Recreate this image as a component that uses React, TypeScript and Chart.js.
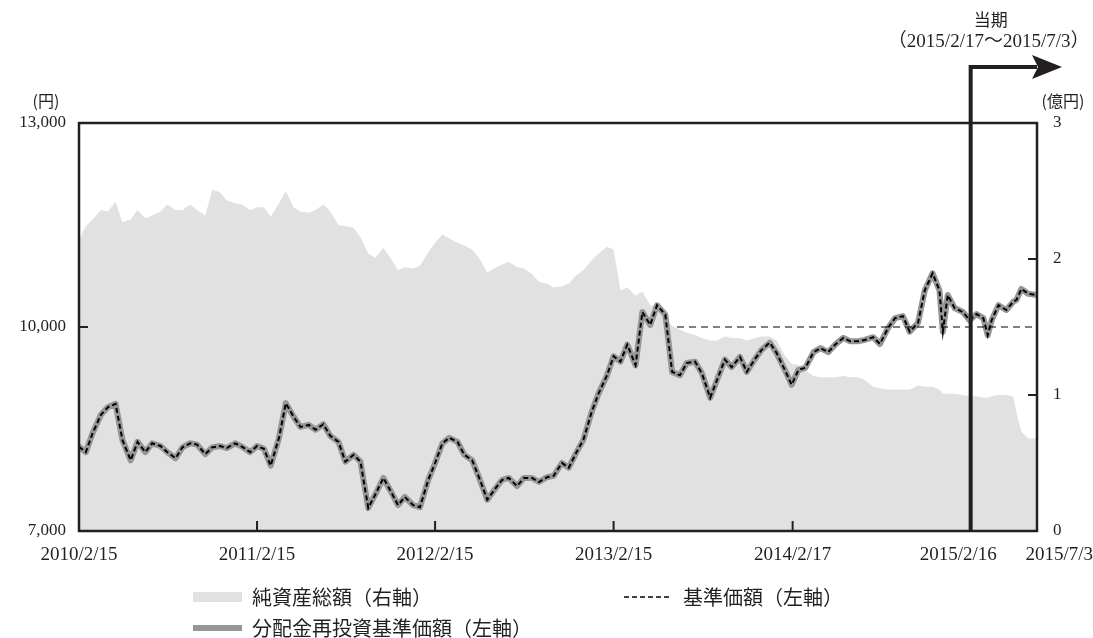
import React, { useEffect, useRef } from "react";
import { Chart, registerables } from "chart.js";

Chart.register(...registerables);

// ---- data ----
const dates: string[] = [
  "2010/2/15", "2010/3/1", "2010/3/15", "2010/4/1", "2010/4/15", "2010/5/1", "2010/5/15", "2010/6/1", "2010/6/15",
  "2010/7/1", "2010/7/15", "2010/8/1", "2010/8/15", "2010/9/1", "2010/9/15", "2010/10/1", "2010/10/15", "2010/11/1",
  "2010/11/15", "2010/12/1", "2010/12/15", "2011/1/1", "2011/1/15", "2011/2/1", "2011/2/15", "2011/3/1", "2011/3/15",
  "2011/4/1", "2011/4/15", "2011/5/1", "2011/5/15", "2011/6/1", "2011/6/15", "2011/7/1", "2011/7/15", "2011/8/1",
  "2011/8/15", "2011/9/1", "2011/9/15", "2011/10/1", "2011/10/15", "2011/11/1", "2011/11/15", "2011/12/1", "2011/12/15",
  "2012/1/1", "2012/1/15", "2012/2/1", "2012/2/15", "2012/3/1", "2012/3/15", "2012/4/1", "2012/4/15", "2012/5/1",
  "2012/5/15", "2012/6/1", "2012/6/15", "2012/7/1", "2012/7/15", "2012/8/1", "2012/8/15", "2012/9/1", "2012/9/15",
  "2012/10/1", "2012/10/15", "2012/11/1", "2012/11/15", "2012/12/1", "2012/12/15", "2013/1/1", "2013/1/15", "2013/2/1",
  "2013/2/15", "2013/3/1", "2013/3/15", "2013/4/1", "2013/4/15", "2013/5/1", "2013/5/15", "2013/6/1", "2013/6/15",
  "2013/7/1", "2013/7/15", "2013/8/1", "2013/8/15", "2013/9/1", "2013/9/15", "2013/10/1", "2013/10/15", "2013/11/1",
  "2013/11/15", "2013/12/1", "2013/12/15", "2014/1/1", "2014/1/15", "2014/2/1", "2014/2/15", "2014/3/1", "2014/3/15",
  "2014/4/1", "2014/4/15", "2014/5/1", "2014/5/15", "2014/6/1", "2014/6/15", "2014/7/1", "2014/7/15", "2014/8/1",
  "2014/8/15", "2014/9/1", "2014/9/15", "2014/10/1", "2014/10/15", "2014/11/1", "2014/11/15", "2014/12/1", "2014/12/15",
  "2014/12/22", "2015/1/1", "2015/1/15", "2015/2/1", "2015/2/15", "2015/3/1", "2015/3/15", "2015/3/24", "2015/4/1",
  "2015/4/15", "2015/5/1", "2015/5/15", "2015/5/22", "2015/6/1", "2015/6/15", "2015/7/3",
];

// 基準価額 (円)
const navValues: number[] = [
  8240, 8160, 8440, 8710, 8820, 8870, 8340, 8040, 8310,
  8160, 8290, 8250, 8160, 8070, 8230, 8290, 8270, 8130,
  8230, 8250, 8220, 8290, 8240, 8160, 8250, 8210, 7960,
  8370, 8880, 8680, 8530, 8560, 8490, 8570, 8400, 8310,
  8020, 8120, 8020, 7340, 7530, 7780, 7600, 7380, 7500,
  7380, 7350, 7750, 8000, 8290, 8370, 8310, 8120, 8040,
  7790, 7460, 7600, 7750, 7780, 7660, 7780, 7780, 7720,
  7790, 7810, 8000, 7930, 8160, 8340, 8750, 9020, 9280,
  9570, 9490, 9740, 9440, 10220, 10030, 10320, 10180, 9340,
  9290, 9470, 9490, 9320, 8960, 9220, 9520, 9410, 9560,
  9340, 9520, 9660, 9770, 9620, 9370, 9150, 9370, 9400,
  9630, 9690, 9630, 9740, 9840, 9790, 9790, 9810, 9850,
  9750, 9990, 10130, 10160, 9930, 10060, 10540, 10790, 10540,
  9930, 10470, 10280, 10220, 10100, 10190, 10130, 9880, 10100,
  10320, 10250, 10370, 10400, 10560, 10490, 10470,
];

// 分配金再投資基準価額 (円) — no distribution was paid, so it coincides with 基準価額
const reinvestNav: number[] = navValues;

// 純資産総額 (億円)
const netAssets: number[] = [
  2.14, 2.24, 2.29, 2.36, 2.35, 2.42, 2.27, 2.29, 2.36,
  2.30, 2.32, 2.35, 2.40, 2.36, 2.36, 2.40, 2.36, 2.32,
  2.51, 2.49, 2.43, 2.41, 2.40, 2.36, 2.38, 2.38, 2.31,
  2.41, 2.50, 2.38, 2.35, 2.34, 2.36, 2.40, 2.35, 2.25,
  2.24, 2.23, 2.16, 2.04, 2.01, 2.08, 2.01, 1.92, 1.94,
  1.93, 1.95, 2.05, 2.12, 2.18, 2.15, 2.12, 2.10, 2.07,
  2.01, 1.90, 1.93, 1.96, 1.98, 1.94, 1.93, 1.89, 1.83,
  1.82, 1.79, 1.80, 1.82, 1.88, 1.92, 1.99, 2.04, 2.09,
  2.07, 1.77, 1.79, 1.73, 1.76, 1.66, 1.65, 1.57, 1.51,
  1.48, 1.46, 1.44, 1.42, 1.40, 1.40, 1.43, 1.42, 1.42,
  1.40, 1.42, 1.43, 1.43, 1.40, 1.29, 1.23, 1.22, 1.18,
  1.14, 1.13, 1.13, 1.13, 1.14, 1.13, 1.13, 1.11, 1.06,
  1.05, 1.04, 1.04, 1.04, 1.04, 1.07, 1.06, 1.06, 1.04,
  1.01, 1.01, 1.01, 1.00, 0.99, 0.99, 0.98, 0.98, 0.99,
  1.00, 1.00, 0.99, 0.87, 0.73, 0.68, 0.68,
];

// dashed reference line at 10,000円
const refLineDates: string[] = ["2013/6/25", "2015/7/3"];
const refLineValues: number[] = [10000, 10000];

const xTickLabels: string[] = ["2010/2/15", "2011/2/15", "2012/2/15", "2013/2/15", "2014/2/17", "2015/2/16", "2015/7/3"];
const yLeftTicks: number[] = [7000, 10000, 13000];
const yRightTicks: number[] = [0, 1, 2, 3];

const leftUnit = "(円)";
const rightUnit = "(億円)";
const periodStart = "2015/2/17";
const periodTitle = "当期";
const periodRange = "（2015/2/17～2015/7/3）";

const legendNetAssets = "純資産総額（右軸）";
const legendNav = "基準価額（左軸）";
const legendReinvest = "分配金再投資基準価額（左軸）";

// ---- styles ----
const INK = "#231f20";
const AREA = "#e1e1e1";
const GREY_LINE = "#969696";
const SERIF = "'Liberation Serif', 'Noto Sans CJK JP', serif";
const CJK = "'Noto Sans CJK JP', sans-serif";

const base = dates[0];
function dayOf(s: string): number {
  const [y, m, d] = s.split("/").map(Number);
  const [by, bm, bd] = base.split("/").map(Number);
  return (Date.UTC(y, m - 1, d) - Date.UTC(by, bm - 1, bd)) / 86400000;
}

const pts = (vals: number[], ds: string[]) => vals.map((v, i) => ({ x: dayOf(ds[i]), y: v }));

const decorPlugin = {
  id: "decor",
  afterDraw(chart: any) {
    const { ctx, chartArea: a, scales } = chart;
    const xs = scales.x;
    const yl = scales.y;
    const yr = scales.y1;
    ctx.save();

    // plot frame
    ctx.strokeStyle = INK;
    ctx.lineWidth = 2.5;
    ctx.strokeRect(a.left, a.top, a.right - a.left, a.bottom - a.top);

    // inward tick marks
    ctx.lineWidth = 2;
    ctx.beginPath();
    xTickLabels.forEach((l) => {
      const px = xs.getPixelForValue(dayOf(l));
      ctx.moveTo(px, a.bottom);
      ctx.lineTo(px, a.bottom - 10);
    });
    yLeftTicks.forEach((v) => {
      if (v > yl.min && v < yl.max) {
        const py = yl.getPixelForValue(v);
        ctx.moveTo(a.left, py);
        ctx.lineTo(a.left + 9, py);
      }
    });
    yRightTicks.forEach((v) => {
      if (v > yr.min && v < yr.max) {
        const py = yr.getPixelForValue(v);
        ctx.moveTo(a.right, py);
        ctx.lineTo(a.right - 9, py);
      }
    });
    ctx.stroke();

    // x tick labels
    ctx.fillStyle = INK;
    ctx.font = `19px ${SERIF}`;
    ctx.textBaseline = "middle";
    const n = xTickLabels.length;
    xTickLabels.forEach((l, i) => {
      const px = xs.getPixelForValue(dayOf(l));
      if (i === n - 1) {
        ctx.textAlign = "right";
        ctx.fillText(l, chart.width, a.bottom + 24);
      } else if (i === n - 2) {
        ctx.textAlign = "center";
        ctx.fillText(l, px - 12, a.bottom + 24);
      } else {
        ctx.textAlign = "center";
        ctx.fillText(l, px, a.bottom + 24);
      }
    });

    // unit labels
    ctx.font = `16px ${CJK}`;
    ctx.textAlign = "center";
    ctx.fillText(leftUnit, a.left - 33, a.top - 22);
    ctx.fillText(rightUnit, a.right + 26, a.top - 22);

    // period arrow
    const ax = xs.getPixelForValue(dayOf(periodStart));
    const ay = a.top - 56;
    ctx.lineWidth = 4;
    ctx.lineJoin = "miter";
    ctx.beginPath();
    ctx.moveTo(ax, a.bottom);
    ctx.lineTo(ax, ay);
    ctx.lineTo(a.right, ay);
    ctx.stroke();
    const tip = a.right + 25;
    const back = a.right - 5;
    ctx.beginPath();
    ctx.moveTo(tip, ay);
    ctx.lineTo(back, ay - 12);
    ctx.lineTo(back + 6, ay);
    ctx.lineTo(back, ay + 12);
    ctx.closePath();
    ctx.fill();

    ctx.font = `17px ${CJK}`;
    ctx.fillText(periodTitle, ax + 20, 20);
    ctx.font = `19px ${SERIF}`;
    ctx.fillText(periodRange, ax + 18, 42);

    // legend
    const r1 = 597;
    const r2 = 628;
    ctx.fillStyle = AREA;
    ctx.fillRect(193, r1 - 5, 49, 10);
    ctx.fillStyle = GREY_LINE;
    ctx.fillRect(193, r2 - 3, 49, 6);
    ctx.strokeStyle = "#000";
    ctx.lineWidth = 1.5;
    ctx.setLineDash([5, 3]);
    ctx.beginPath();
    ctx.moveTo(624, r1);
    ctx.lineTo(672, r1);
    ctx.stroke();
    ctx.setLineDash([]);
    ctx.fillStyle = INK;
    ctx.font = `20px ${CJK}`;
    ctx.textAlign = "left";
    ctx.fillText(legendNetAssets, 252, r1);
    ctx.fillText(legendNav, 683, r1);
    ctx.fillText(legendReinvest, 252, r2);

    ctx.restore();
  },
};

export default function App() {
  const ref = useRef<HTMLCanvasElement>(null);

  useEffect(() => {
    if (!ref.current) return;
    const chart = new Chart(ref.current, {
      type: "line",
      data: {
        datasets: [
          {
            label: "基準価額",
            data: pts(navValues, dates),
            yAxisID: "y",
            borderColor: "#000",
            borderWidth: 2,
            borderDash: [5, 3],
            pointRadius: 0,
            fill: false,
            order: 0,
          },
          {
            label: "refline",
            data: pts(refLineValues, refLineDates),
            yAxisID: "y",
            borderColor: "#000",
            borderWidth: 1,
            borderDash: [7, 5],
            pointRadius: 0,
            fill: false,
            order: 1,
          },
          {
            label: "分配金再投資基準価額",
            data: pts(reinvestNav, dates),
            yAxisID: "y",
            borderColor: GREY_LINE,
            borderWidth: 6,
            borderJoinStyle: "round",
            borderCapStyle: "round",
            pointRadius: 0,
            fill: false,
            order: 2,
          },
          {
            label: "純資産総額",
            data: pts(netAssets, dates),
            yAxisID: "y1",
            borderWidth: 0,
            borderColor: AREA,
            backgroundColor: AREA,
            pointRadius: 0,
            fill: "origin",
            order: 3,
          },
        ],
      },
      options: {
        animation: false,
        responsive: true,
        maintainAspectRatio: false,
        layout: { padding: { top: 123, left: 0, right: 0, bottom: 0 } },
        plugins: { legend: { display: false }, tooltip: { enabled: false } },
        scales: {
          x: {
            type: "linear",
            min: 0,
            max: dayOf(dates[dates.length - 1]),
            grid: { display: false, drawTicks: false },
            border: { display: false },
            ticks: { display: false },
            afterFit: (s: any) => {
              s.height = 107;
            },
          },
          y: {
            type: "linear",
            position: "left",
            min: yLeftTicks[0],
            max: yLeftTicks[yLeftTicks.length - 1],
            grid: { display: false, drawTicks: false },
            border: { display: false },
            afterBuildTicks: (s: any) => {
              s.ticks = yLeftTicks.map((v) => ({ value: v }));
            },
            ticks: {
              padding: 13,
              color: INK,
              font: { family: "'Liberation Serif', serif", size: 17 },
              callback: (v: any) => Number(v).toLocaleString("en-US"),
            },
            afterFit: (s: any) => {
              s.width = 79;
            },
          },
          y1: {
            type: "linear",
            position: "right",
            min: yRightTicks[0],
            max: yRightTicks[yRightTicks.length - 1],
            grid: { display: false, drawTicks: false },
            border: { display: false },
            afterBuildTicks: (s: any) => {
              s.ticks = yRightTicks.map((v) => ({ value: v }));
            },
            ticks: {
              padding: 16,
              color: INK,
              font: { family: "'Liberation Serif', serif", size: 17 },
              callback: (v: any) => String(v),
            },
            afterFit: (s: any) => {
              s.width = 56;
            },
          },
        },
      },
      plugins: [decorPlugin],
    } as any);
    return () => chart.destroy();
  }, []);

  return (
    <div style={{ position: "absolute", left: 0, top: 0, width: 1093, height: 638, background: "#fff" }}>
      <canvas ref={ref} />
    </div>
  );
}
